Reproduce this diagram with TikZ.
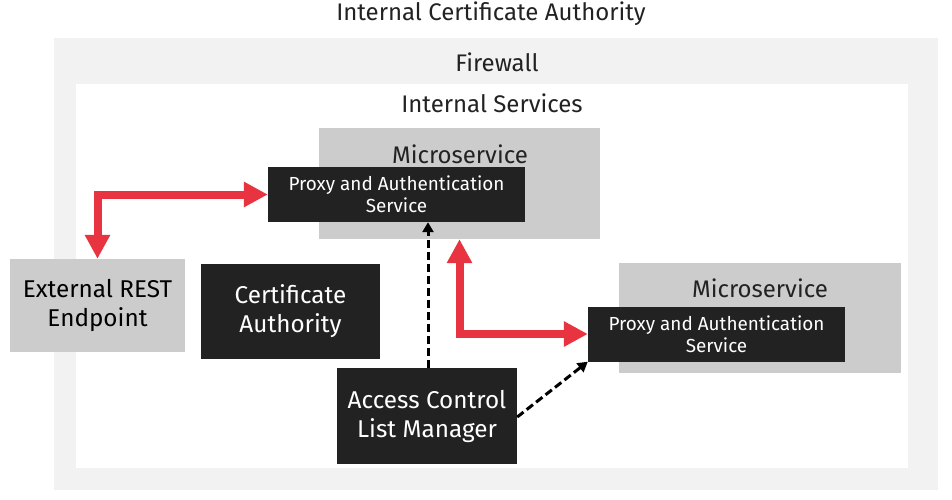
\documentclass[tikz,border=0pt]{standalone}
\usepackage{fontspec}
\setmainfont{Fira Sans}
\usepackage{tikz}
\usetikzlibrary{arrows.meta, positioning, calc}
\definecolor{fwgray}{RGB}{242,242,242}
\definecolor{boxgray}{RGB}{204,204,204}
\definecolor{boxdark}{RGB}{34,34,34}
\definecolor{linkred}{RGB}{232,52,64}
\newcommand{\titlefont}{\fontsize{24}{28}\selectfont}
\newcommand{\boxfont}{\fontsize{24.3}{29}\selectfont}
\newcommand{\proxyfont}{\fontsize{18.9}{22}\selectfont}

\begin{document}
\begin{tikzpicture}[
    x=1pt, y=-1pt,
    graybox/.style={rectangle, fill=boxgray, text=black, align=center, inner sep=0pt, font=\boxfont},
    darkbox/.style={rectangle, fill=boxdark, text=white, align=center, inner sep=0pt, font=\boxfont},
    proxybox/.style={darkbox, minimum width=257pt, minimum height=55pt, font=\proxyfont},
    heading/.style={text=boxdark, inner sep=0pt, font=\titlefont},
    redarr/.style={{Triangle[width=24pt,length=24pt]}-{Triangle[width=24pt,length=24pt]}, line width=8pt, draw=linkred},
    dasharr/.style={-{Triangle[width=11pt,length=10pt]}, line width=3pt, dash pattern=on 8pt off 4pt, draw=black},
]
\useasboundingbox (0,0) rectangle (952,499);

% Zones
\fill[fwgray] (54,38) rectangle (938,490);
\fill[white] (76,84) rectangle (908,468);

% Headings
\node[heading] (catitle) at (491,14) {Internal Certificate Authority};
\node[heading] (fwtitle) at (497,62) {Firewall};
\node[heading] (svctitle) at (492,103) {Internal Services};

% Microservices
\node[graybox, minimum width=281pt, minimum height=111pt] (ms1) at (459.5,183.5) {};
\node[heading, anchor=base] at (460,163) {Microservice};
\node[proxybox] (proxy1) at (396.5,194.5) {Proxy and Authentication\\Service};

\node[graybox, minimum width=282pt, minimum height=110pt] (ms2) at (760,318) {};
\node[heading, anchor=base] at (760,297) {Microservice};
\node[proxybox] (proxy2) at (716.5,334) {Proxy and Authentication\\Service};

% Other blocks
\node[graybox, minimum width=175pt, minimum height=93pt] (ext) at (97.5,305.5) {External REST\\Endpoint};
\node[darkbox, minimum width=179pt, minimum height=95pt] (ca) at (290.5,311.5) {Certificate\\Authority};
\node[darkbox, minimum width=180pt, minimum height=96pt] (acl) at (427,416) {Access Control\\List Manager};

% Arrows
\draw[redarr] (ext.north) |- (proxy1.west);
\draw[redarr] (ms1.south) |- (proxy2.west);
\draw[dasharr] ($(acl.north)+(1,0)$) -- ($(acl.north |- proxy1.south)+(1,0)$);
\draw[dasharr] ($(acl.east)+(0,1)$) -- (proxy2.south west);
\end{tikzpicture}
\end{document}
